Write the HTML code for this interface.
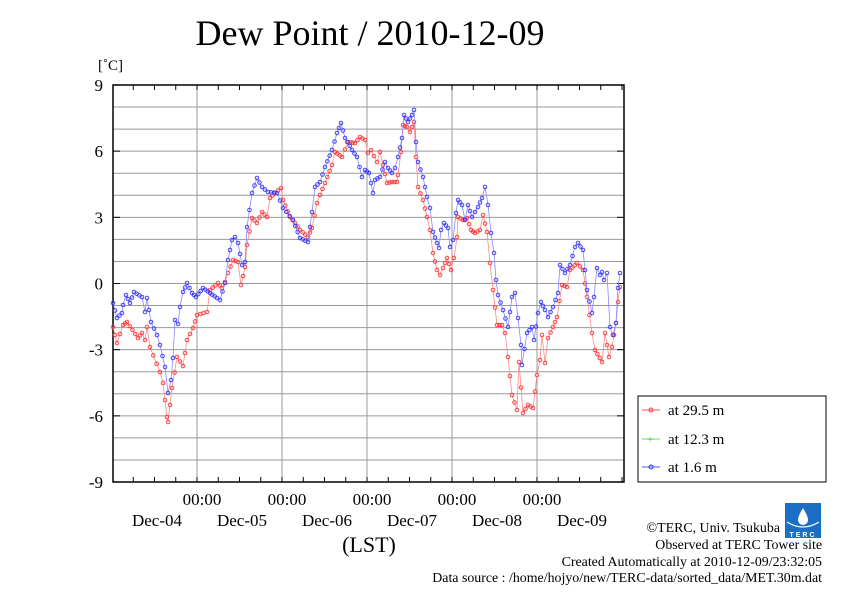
<!DOCTYPE html><html><head><style>body{margin:0;background:#fff}svg{font-family:"Liberation Serif",serif}</style></head><body>
<svg id="s" width="842" height="595" xmlns="http://www.w3.org/2000/svg">
<rect width="842" height="595" fill="#fff"/>
<text x="370" y="45" font-size="36" text-anchor="middle">Dew Point / 2010-12-09</text>
<text x="98" y="70" font-size="15">[˚C]</text>
<g id="grid" stroke="#999" stroke-width="1"></g>
<g id="lab" font-size="17"></g>
<rect x="113" y="85" width="511" height="397" fill="none" stroke="#000" stroke-width="1.5"/>
<g id="ser"></g>
<text x="369" y="552" font-size="22" text-anchor="middle">(LST)</text>
<rect x="638" y="396" width="188" height="86" fill="#fff" stroke="#000" stroke-width="1"/>
<line x1="642" y1="410" x2="660" y2="410" stroke="#f55"/><circle cx="651" cy="410" r="2" fill="none" stroke="#f33"/>
<text x="668" y="415" font-size="15">at 29.5 m</text>
<line x1="642" y1="439" x2="660" y2="439" stroke="#6d6"/><text x="647" y="443" font-size="11" fill="#3c3">+</text>
<text x="668" y="444" font-size="15">at 12.3 m</text>
<line x1="642" y1="467" x2="660" y2="467" stroke="#55f"/><circle cx="651" cy="467" r="2" fill="none" stroke="#33f"/>
<text x="668" y="472" font-size="15">at 1.6 m</text>
<g>
<rect x="785" y="503" width="36" height="35" fill="#1a6fc4"/>
<path d="M803 508 Q798 516 798 520 A5 5 0 0 0 808 520 Q808 516 803 508Z" fill="#fff"/>
<path d="M787 522 Q803 532 819 522" fill="none" stroke="#fff" stroke-width="1.2"/>
<text x="803" y="537" font-size="7" fill="#fff" text-anchor="middle" font-family="Liberation Sans" font-weight="bold" letter-spacing="2">TERC</text>
</g>
<g font-size="13.9" text-anchor="end">
<text x="780" y="532">©TERC, Univ. Tsukuba</text>
<text x="822" y="549">Observed at TERC Tower site</text>
<text x="822" y="566">Created Automatically at 2010-12-09/23:32:05</text>
<text x="822" y="582">Data source : /home/hojyo/new/TERC-data/sorted_data/MET.30m.dat</text>
</g>
</svg>
<script>
var NS="http://www.w3.org/2000/svg";
function el(p,t,a,txt){var e=document.createElementNS(NS,t);for(var k in a)e.setAttribute(k,a[k]);if(txt!==undefined)e.textContent=String(txt);p.appendChild(e);return e;}
var g=document.getElementById("grid"),L=document.getElementById("lab");
function Y(v){return 283.5-v*22.06;}
for(var v=-8;v<=8;v++){el(g,"line",{x1:113,x2:624,y1:Y(v),y2:Y(v)});}
for(var v=-9;v<=9;v+=3){el(L,"text",{x:103,y:Y(v)+6,"text-anchor":"end"},v);el(g,"line",{x1:113,x2:120,y1:Y(v),y2:Y(v),stroke:"#000"});el(g,"line",{x1:617,x2:624,y1:Y(v),y2:Y(v),stroke:"#000"});}
var days=["Dec-04","Dec-05","Dec-06","Dec-07","Dec-08","Dec-09"];
for(var i=0;i<5;i++){var x=197+i*85;el(g,"line",{x1:x,x2:x,y1:85,y2:482});el(L,"text",{x:x+5,y:505,"text-anchor":"middle"},"00:00");}
for(var i=0;i<6;i++){el(L,"text",{x:157+i*85,y:526,"text-anchor":"middle"},days[i]);}
for(var x=112+21.25;x<624;x+=21.25){el(g,"line",{x1:x,x2:x,y1:85,y2:90,stroke:"#000"});el(g,"line",{x1:x,x2:x,y1:477,y2:482,stroke:"#000"});}
var red=[[113,327],[117,343],[123,325],[127,322],[138,338],[142,333],[145,340],[147,327],[150,347],[160,372],[163,383],[167,417],[168,422],[172,388],[177,357],[183,366],[187,340],[193,328],[197,315],[207,312],[210,290],[218,283],[222,288],[225,282],[228,273],[233,260],[238,262],[241,285],[245,267],[247,245],[252,218],[257,223],[262,212],[267,217],[270,198],[275,193],[281,188],[283,200],[290,217],[295,223],[300,230],[308,237],[312,228],[317,203],[320,195],[325,183],[332,165],[335,152],[342,157],[348,142],[355,143],[360,137],[365,140],[368,153],[371,150],[377,162],[380,152],[383,165],[387,183],[392,182],[397,182],[398,175],[401,152],[403,125],[407,127],[410,132],[414,122],[416,157],[418,187],[423,200],[427,217],[430,230],[433,253],[437,270],[440,275],[443,268],[447,258],[451,270],[454,258],[457,237],[458,217],[463,220],[467,218],[471,230],[475,233],[480,230],[483,215],[487,232],[490,263],[493,290],[497,325],[502,325],[505,333],[508,357],[512,395],[517,410],[519,362],[523,413],[528,405],[533,408],[537,375],[540,360],[542,335],[545,363],[548,338],[553,327],[557,317],[562,285],[567,287],[570,270],[577,263],[583,270],[587,297],[592,333],[595,350],[602,362],[605,333],[609,357],[612,347],[616,323],[618,302],[620,287]];
var blue=[[113,303],[117,318],[122,313],[123,305],[126,295],[130,303],[134,292],[142,297],[145,312],[147,298],[151,322],[157,335],[160,345],[165,367],[168,393],[171,380],[173,358],[175,320],[178,324],[180,307],[183,292],[187,283],[192,293],[196,297],[203,288],[210,293],[217,298],[220,300],[225,283],[228,260],[232,240],[235,237],[238,243],[242,265],[245,262],[247,227],[252,193],[257,178],[262,187],[268,192],[277,193],[283,208],[293,220],[300,238],[308,242],[312,212],[315,187],[320,182],[325,167],[332,150],[337,133],[341,123],[345,138],[352,150],[357,157],[362,177],[365,170],[369,173],[371,183],[373,193],[375,180],[380,177],[385,162],[388,168],[392,173],[395,168],[398,157],[402,138],[404,115],[408,122],[412,115],[414,110],[416,142],[418,162],[423,177],[427,197],[430,208],[433,232],[437,243],[439,248],[441,230],[444,223],[448,228],[450,247],[453,240],[456,213],[458,200],[462,205],[465,220],[468,205],[472,217],[478,207],[482,198],[485,187],[488,205],[491,233],[494,253],[496,280],[498,295],[503,310],[508,327],[512,297],[515,293],[518,318],[521,345],[522,365],[527,333],[532,327],[534,340],[538,313],[541,302],[545,310],[548,317],[553,307],[558,293],[560,265],[565,273],[570,265],[575,247],[578,243],[583,250],[587,290],[592,313],[594,297],[597,268],[600,275],[602,272],[604,280],[607,273],[610,327],[613,335],[616,323],[618,288],[620,273]];
var S=document.getElementById("ser");
function draw(d,lc,mc){var pts=[];for(var i=0;i<d.length;i++){if(i>0){var a=d[i-1],b=d[i],dx=b[0]-a[0],n=Math.floor(dx/3.5);for(var j=1;j<=n;j++){var t=j/(n+1);pts.push([a[0]+dx*t,a[1]+(b[1]-a[1])*t]);}}pts.push(d[i]);}
el(S,"polyline",{points:pts.map(function(p){return p.join(",")}).join(" "),fill:"none",stroke:lc,"stroke-width":0.8});
pts.forEach(function(p){el(S,"circle",{cx:p[0],cy:p[1],r:1.8,fill:"none",stroke:mc,"stroke-width":0.9});});}
draw(red,"#f88","#f33");draw(blue,"#88f","#33f");
</script>
</body></html>
